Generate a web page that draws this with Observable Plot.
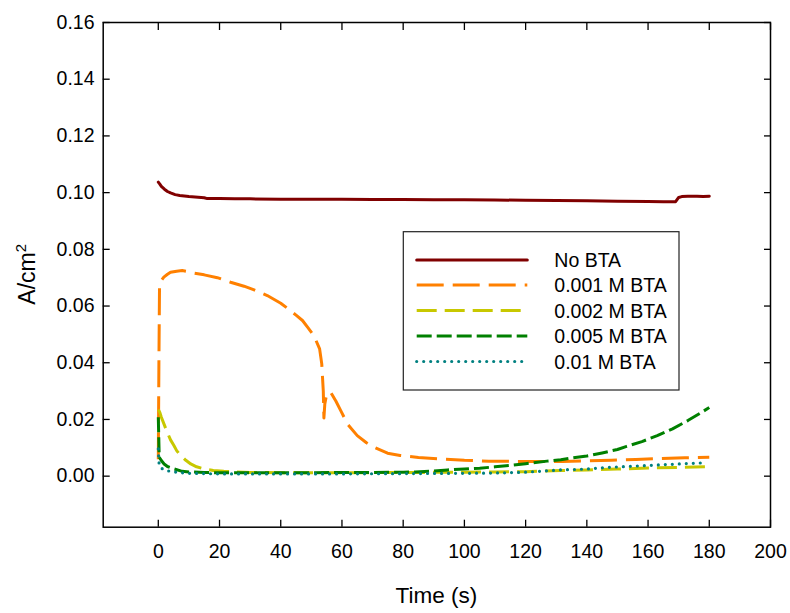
<!DOCTYPE html>
<html><head><meta charset="utf-8">
<script src="https://cdn.jsdelivr.net/npm/d3@7"></script>
<script src="https://cdn.jsdelivr.net/npm/@observablehq/plot@0.6"></script>
<style>body{margin:0;background:#fff} #chart{width:790px;height:613px}</style>
</head><body><div id="chart"></div>
<script>
// ---- data ----
const seriesNames = ["No BTA", "0.001 M BTA", "0.002 M BTA", "0.005 M BTA", "0.01 M BTA"];
const seriesColors = ["#800000", "#FF8000", "#C8C800", "#008000", "#008080"];

const tNo = [0,0.5,1,2,3,4,5.5,7,10,13,15,16,20,25,30,40,50,60,70,80,90,100,110,120,130,140,150,160,165,169,170,171,173,176,178,180];
const vNo = [0.1037,0.1030,0.1022,0.1012,0.1004,0.0999,0.0993,0.0990,0.0986,0.0984,0.0982,0.0979,0.0979,0.0978,0.0978,0.0977,0.0977,0.0977,0.0976,0.0976,0.0975,0.0975,0.0974,0.0973,0.0972,0.0971,0.0970,0.0969,0.0968,0.0968,0.0983,0.0986,0.0987,0.0987,0.0986,0.0987];

const t001 = [0,0.2,0.4,1,1.8,3,4,6,7.8,10,11.6,15,19.3,23.6,28,31.3,35.6,40,42.2,45,47.1,49,50.9,52.7,53.4,53.9,54.1,54.4,55,56.3,58,59.6,61.8,65,68,70.5,74.9,79,85,92,100,108,116,124,132,140,148,156,164,172,180];
const v001 = [0.006,0.040,0.0672,0.0690,0.0702,0.0712,0.0719,0.0723,0.0725,0.0721,0.0716,0.0710,0.0700,0.0684,0.0670,0.0657,0.0637,0.0610,0.0592,0.0568,0.0549,0.0522,0.0494,0.0449,0.0396,0.0300,0.0205,0.0255,0.0290,0.0296,0.0265,0.0231,0.0184,0.0143,0.0118,0.0102,0.0081,0.0073,0.0066,0.0061,0.0056,0.0053,0.0052,0.0052,0.0052,0.0054,0.0056,0.0059,0.0062,0.0065,0.0067];

const t002 = [0,0.5,1,2,2.9,4,5.1,6,7.3,9,10.6,12.5,14.9,18,21.4,25,30,40,60,80,100,110,120,131.5,140,150,160,170,180];
const v002 = [0.0235,0.0225,0.0208,0.0180,0.0155,0.0128,0.0108,0.0090,0.0073,0.0056,0.0043,0.0033,0.0026,0.0020,0.0017,0.0015,0.0013,0.0012,0.0012,0.0013,0.0014,0.0015,0.0016,0.0020,0.0022,0.0025,0.0029,0.0031,0.0034];

const t005 = [0,0.3,1,1.9,3,5.1,7.8,10,15,20,30,40,50,60,70,80,84,90,94.5,100,105,110,116,120,127,131.5,135,140,145,150,153,158,163,168,173,177,180];
const v005 = [0.0208,0.0067,0.0055,0.0043,0.0034,0.0026,0.0017,0.0015,0.0013,0.0012,0.0012,0.0012,0.0012,0.0013,0.0013,0.0014,0.0015,0.0018,0.0022,0.0025,0.0028,0.0033,0.0039,0.0044,0.0053,0.0058,0.0064,0.0071,0.0082,0.0094,0.0105,0.0122,0.0143,0.0167,0.0196,0.0222,0.0242];

const t01 = [0,0.3,1,2.5,4,6,7.8,10,20,40,60,80,100,110,120,131.5,140,146.8,155,164.2,172,178.4];
const v01 = [0.0096,0.0037,0.0028,0.0020,0.0017,0.0014,0.0012,0.0010,0.0008,0.0008,0.0008,0.0009,0.0010,0.0011,0.0014,0.0022,0.0025,0.0031,0.0035,0.0040,0.0044,0.0047];

const xTicks = [0,20,40,60,80,100,120,140,160,180,200];
const xTickLabels = ["0","20","40","60","80","100","120","140","160","180","200"];
const yTicks = [0,0.02,0.04,0.06,0.08,0.10,0.12,0.14,0.16];
const yTickLabels = ["0.00","0.02","0.04","0.06","0.08","0.10","0.12","0.14","0.16"];
const xTitle = "Time (s)";
const yTitle = "A/cm";
const yTitleSup = "2";

// ---- build ----
const ts = [tNo, t001, t002, t005, t01];
const vs = [vNo, v001, v002, v005, v01];
const rows = ts.map((t, s) => t.map((tt, i) => ({series: seriesNames[s], t: tt, v: vs[s][i]})));
const dashes = [null, "27,9", "20,8", "15,5", "0,7"];
const caps = ["round", "butt", "butt", "butt", "round"];
const font = "'Liberation Sans', Arial, Helvetica, sans-serif";

const W = 790, H = 613, ML = 102.7, MR = 20, MT = 22, MB = 86.3;

const lineMarks = rows.map((r, s) => Plot.line(r, {
  x: "t", y: "v", stroke: seriesColors[s], strokeWidth: s === 4 ? 3.2 : 3,
  strokeDasharray: dashes[s], strokeLinecap: caps[s], strokeLinejoin: "round"
}));

const plot = Plot.plot({
  width: W, height: H,
  marginLeft: ML, marginRight: MR, marginTop: MT, marginBottom: MB,
  style: {fontFamily: font, fontSize: "19px", color: "#000", background: "#fff"},
  x: {domain: [-18, 200], label: null},
  y: {domain: [-0.018, 0.16], label: null},
  marks: [
    ...lineMarks,
    Plot.frame({stroke: "#000", strokeWidth: 1.5}),
    Plot.axisX(xTicks, {anchor: "bottom", tickSize: -7, strokeWidth: 1.3, tickFormat: () => "", label: null}),
    Plot.axisX(xTicks, {anchor: "top", tickSize: -7, strokeWidth: 1.3, tickFormat: () => "", label: null}),
    Plot.axisY(yTicks, {anchor: "left", tickSize: -7, strokeWidth: 1.3, tickFormat: () => "", label: null}),
    Plot.axisY(yTicks, {anchor: "right", tickSize: -7, strokeWidth: 1.3, tickFormat: () => "", label: null}),
    Plot.axisX(xTicks, {anchor: "bottom", tickSize: 0, tickPadding: 16.6, fontSize: 19.5,
      tickFormat: d => xTickLabels[xTicks.indexOf(d)], label: null}),
    Plot.axisY(yTicks, {anchor: "left", tickSize: 0, tickPadding: 8.7, fontSize: 19.5,
      tickFormat: d => yTickLabels[yTicks.indexOf(d)], label: null})
  ]
});

const svg = d3.select(plot);
// axis titles
svg.append("text").attr("x", (ML + W - MR) / 2).attr("y", 603)
  .attr("text-anchor", "middle").attr("font-size", 22.5).attr("font-family", font)
  .attr("fill", "#000").text(xTitle);
const yt = svg.append("text").attr("transform", `translate(35,${(MT + H - MB) / 2}) rotate(-90)`)
  .attr("text-anchor", "middle").attr("font-size", 23).attr("font-family", font).attr("fill", "#000");
yt.append("tspan").text(yTitle);
yt.append("tspan").attr("font-size", 15).attr("dy", -9).text(yTitleSup);

// legend
const lg = svg.append("g");
lg.append("rect").attr("x", 403.3).attr("y", 231.7).attr("width", 275.7).attr("height", 158.3)
  .attr("fill", "#fff").attr("stroke", "#222").attr("stroke-width", 1.2);
const rowY = [260, 285, 310.5, 336, 361.5];
seriesNames.forEach((name, s) => {
  lg.append("line").attr("x1", 416.7).attr("x2", 527.3).attr("y1", rowY[s]).attr("y2", rowY[s])
    .attr("stroke", seriesColors[s]).attr("stroke-width", s === 4 ? 3.2 : 3)
    .attr("stroke-dasharray", dashes[s]).attr("stroke-linecap", caps[s]);
  lg.append("text").attr("x", 554.3).attr("y", rowY[s]).attr("dy", "0.36em")
    .attr("text-anchor", "start")
    .attr("font-size", 19.5).attr("font-family", font).attr("fill", "#000").text(name);
});

document.getElementById("chart").appendChild(plot);
</script>
</body></html>
